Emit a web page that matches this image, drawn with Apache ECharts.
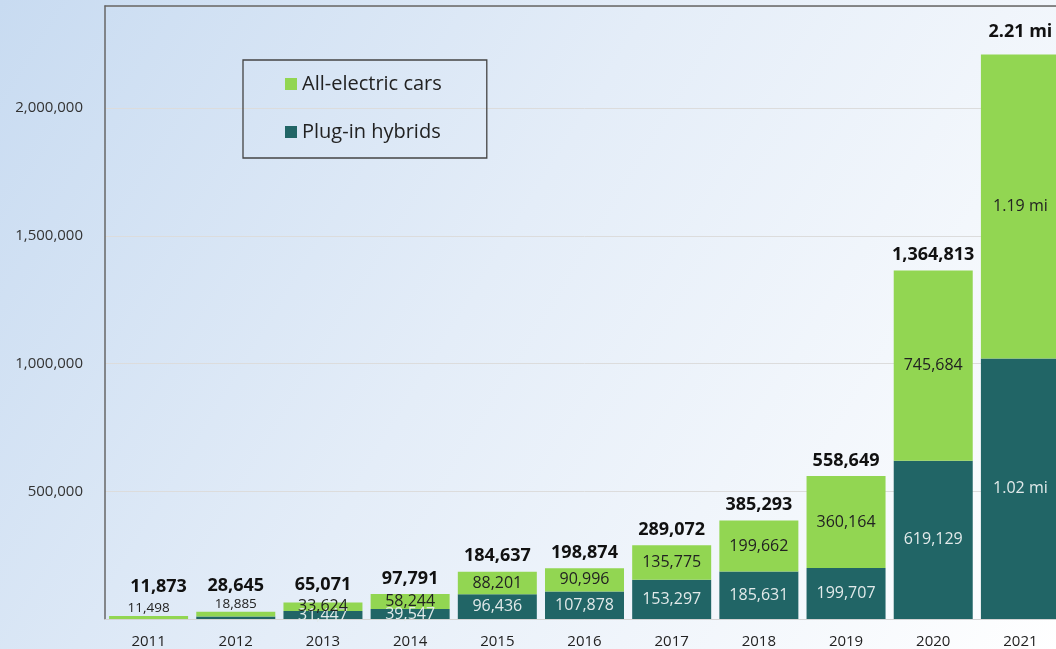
<!DOCTYPE html>
<html>
<head>
<meta charset="utf-8">
<script src="https://cdn.jsdelivr.net/npm/echarts@6/dist/echarts.min.js"></script>
<style>
html,body{margin:0;padding:0;overflow:hidden;width:1056px;height:649px;}
#chart{width:1064px;height:649px;}
</style>
</head>
<body>
<div id="chart"></div>
<script>
const years = ['2011','2012','2013','2014','2015','2016','2017','2018','2019','2020','2021'];
const plugInHybrids = [375, 9760, 31447, 39547, 96436, 107878, 153297, 185631, 199707, 619129, 1020000];
const allElectric = [11498, 18885, 33624, 58244, 88201, 90996, 135775, 199662, 360164, 745684, 1190000];
const totals = [11873, 28645, 65071, 97791, 184637, 198874, 289072, 385293, 558649, 1364813, 2210000];
const yTicks = [0, 500000, 1000000, 1500000, 2000000];
const millionLabelYears = ['2021'];

const FONT = '"Open Sans", sans-serif';
function fmt(p) {
  if (millionLabelYears.indexOf(years[p.dataIndex]) >= 0) return (p.value / 1000000).toFixed(2) + ' mi';
  return p.value.toLocaleString('en-US');
}
const totalDistance = [20, 16, 8, 6, 6, 6, 6, 6, 6, 6, 13];

const chart = echarts.init(document.getElementById('chart'), null, {renderer: 'canvas'});
chart.setOption({
  animation: false,
  textStyle: {fontFamily: FONT},
  backgroundColor: {
    type: 'linear', x: 0, y: 0, x2: 1, y2: 1,
    colorStops: [
      {offset: 0, color: '#c8dbf1'},
      {offset: 0.45, color: '#e4edf8'},
      {offset: 1, color: '#ffffff'}
    ]
  },
  grid: {left: 105, right: 0, top: 6, bottom: 29, containLabel: false},
  legend: {
    orient: 'vertical',
    left: 243, top: 60,
    padding: [14, 45, 16, 42],
    itemGap: 28,
    itemWidth: 12, itemHeight: 12,
    borderColor: '#444', borderWidth: 1.3,
    icon: 'rect',
    textStyle: {fontSize: 20, color: '#222', fontFamily: FONT},
    data: ['All-electric cars', 'Plug-in hybrids']
  },
  xAxis: [{
    type: 'category',
    data: years,
    axisLine: {show: true, lineStyle: {color: '#d4d4d4', width: 1}},
    axisTick: {show: false},
    axisLabel: {fontSize: 15, color: '#222', margin: 15, fontFamily: FONT}
  }, {
    type: 'category',
    position: 'top',
    data: years,
    axisLine: {show: true, lineStyle: {color: '#666', width: 1.5}},
    axisTick: {show: false},
    axisLabel: {show: false}
  }],
  yAxis: {
    type: 'value',
    min: 0, max: 2400000, interval: 500000,
    axisLine: {show: true, lineStyle: {color: '#666', width: 1.5}},
    axisTick: {show: false},
    splitLine: {lineStyle: {color: '#dcdcdc', width: 1}},
    axisLabel: {
      fontSize: 15, color: '#333', margin: 22, fontFamily: FONT,
      showMaxLabel: false,
      formatter: function (v) { return v === 0 ? '' : (yTicks.indexOf(v) >= 0 ? v.toLocaleString('en-US') : ''); }
    }
  },
  series: [{
    name: 'Plug-in hybrids',
    type: 'bar',
    stack: 'total',
    barWidth: 79,
    itemStyle: {color: '#216566'},
    label: {
      show: true, position: 'inside', fontSize: 16, color: '#e2eaea', fontFamily: FONT,
      formatter: function (p) { return p.dataIndex < 2 ? '' : fmt(p); }
    },
    data: plugInHybrids
  }, {
    name: 'All-electric cars',
    type: 'bar',
    stack: 'total',
    barWidth: 79,
    itemStyle: {color: '#92d652'},
    label: {
      show: true, position: 'inside', fontSize: 16, color: '#222', fontFamily: FONT,
      formatter: fmt
    },
    data: allElectric.map(function (v, i) {
      if (i < 2) return {value: v, label: {position: 'top', fontSize: 13.5, distance: 1}};
      return v;
    })
  }, {
    name: 'Total',
    type: 'line',
    symbol: 'circle',
    symbolSize: 1,
    showSymbol: true,
    itemStyle: {color: 'rgba(0,0,0,0)', borderWidth: 0},
    lineStyle: {width: 0, color: 'rgba(0,0,0,0)'},
    silent: true,
    label: {
      show: true, position: 'top',
      fontSize: 18, fontWeight: 'bold', color: '#111', fontFamily: FONT,
      formatter: fmt
    },
    labelLayout: {hideOverlap: false},
    data: totals.map(function (v, i) {
      const lab = {distance: totalDistance[i]};
      if (i === 0) lab.padding = [0, 0, 0, 20];
      return {value: v, label: lab};
    }),
    z: 5
  }]
});
</script>
</body>
</html>
